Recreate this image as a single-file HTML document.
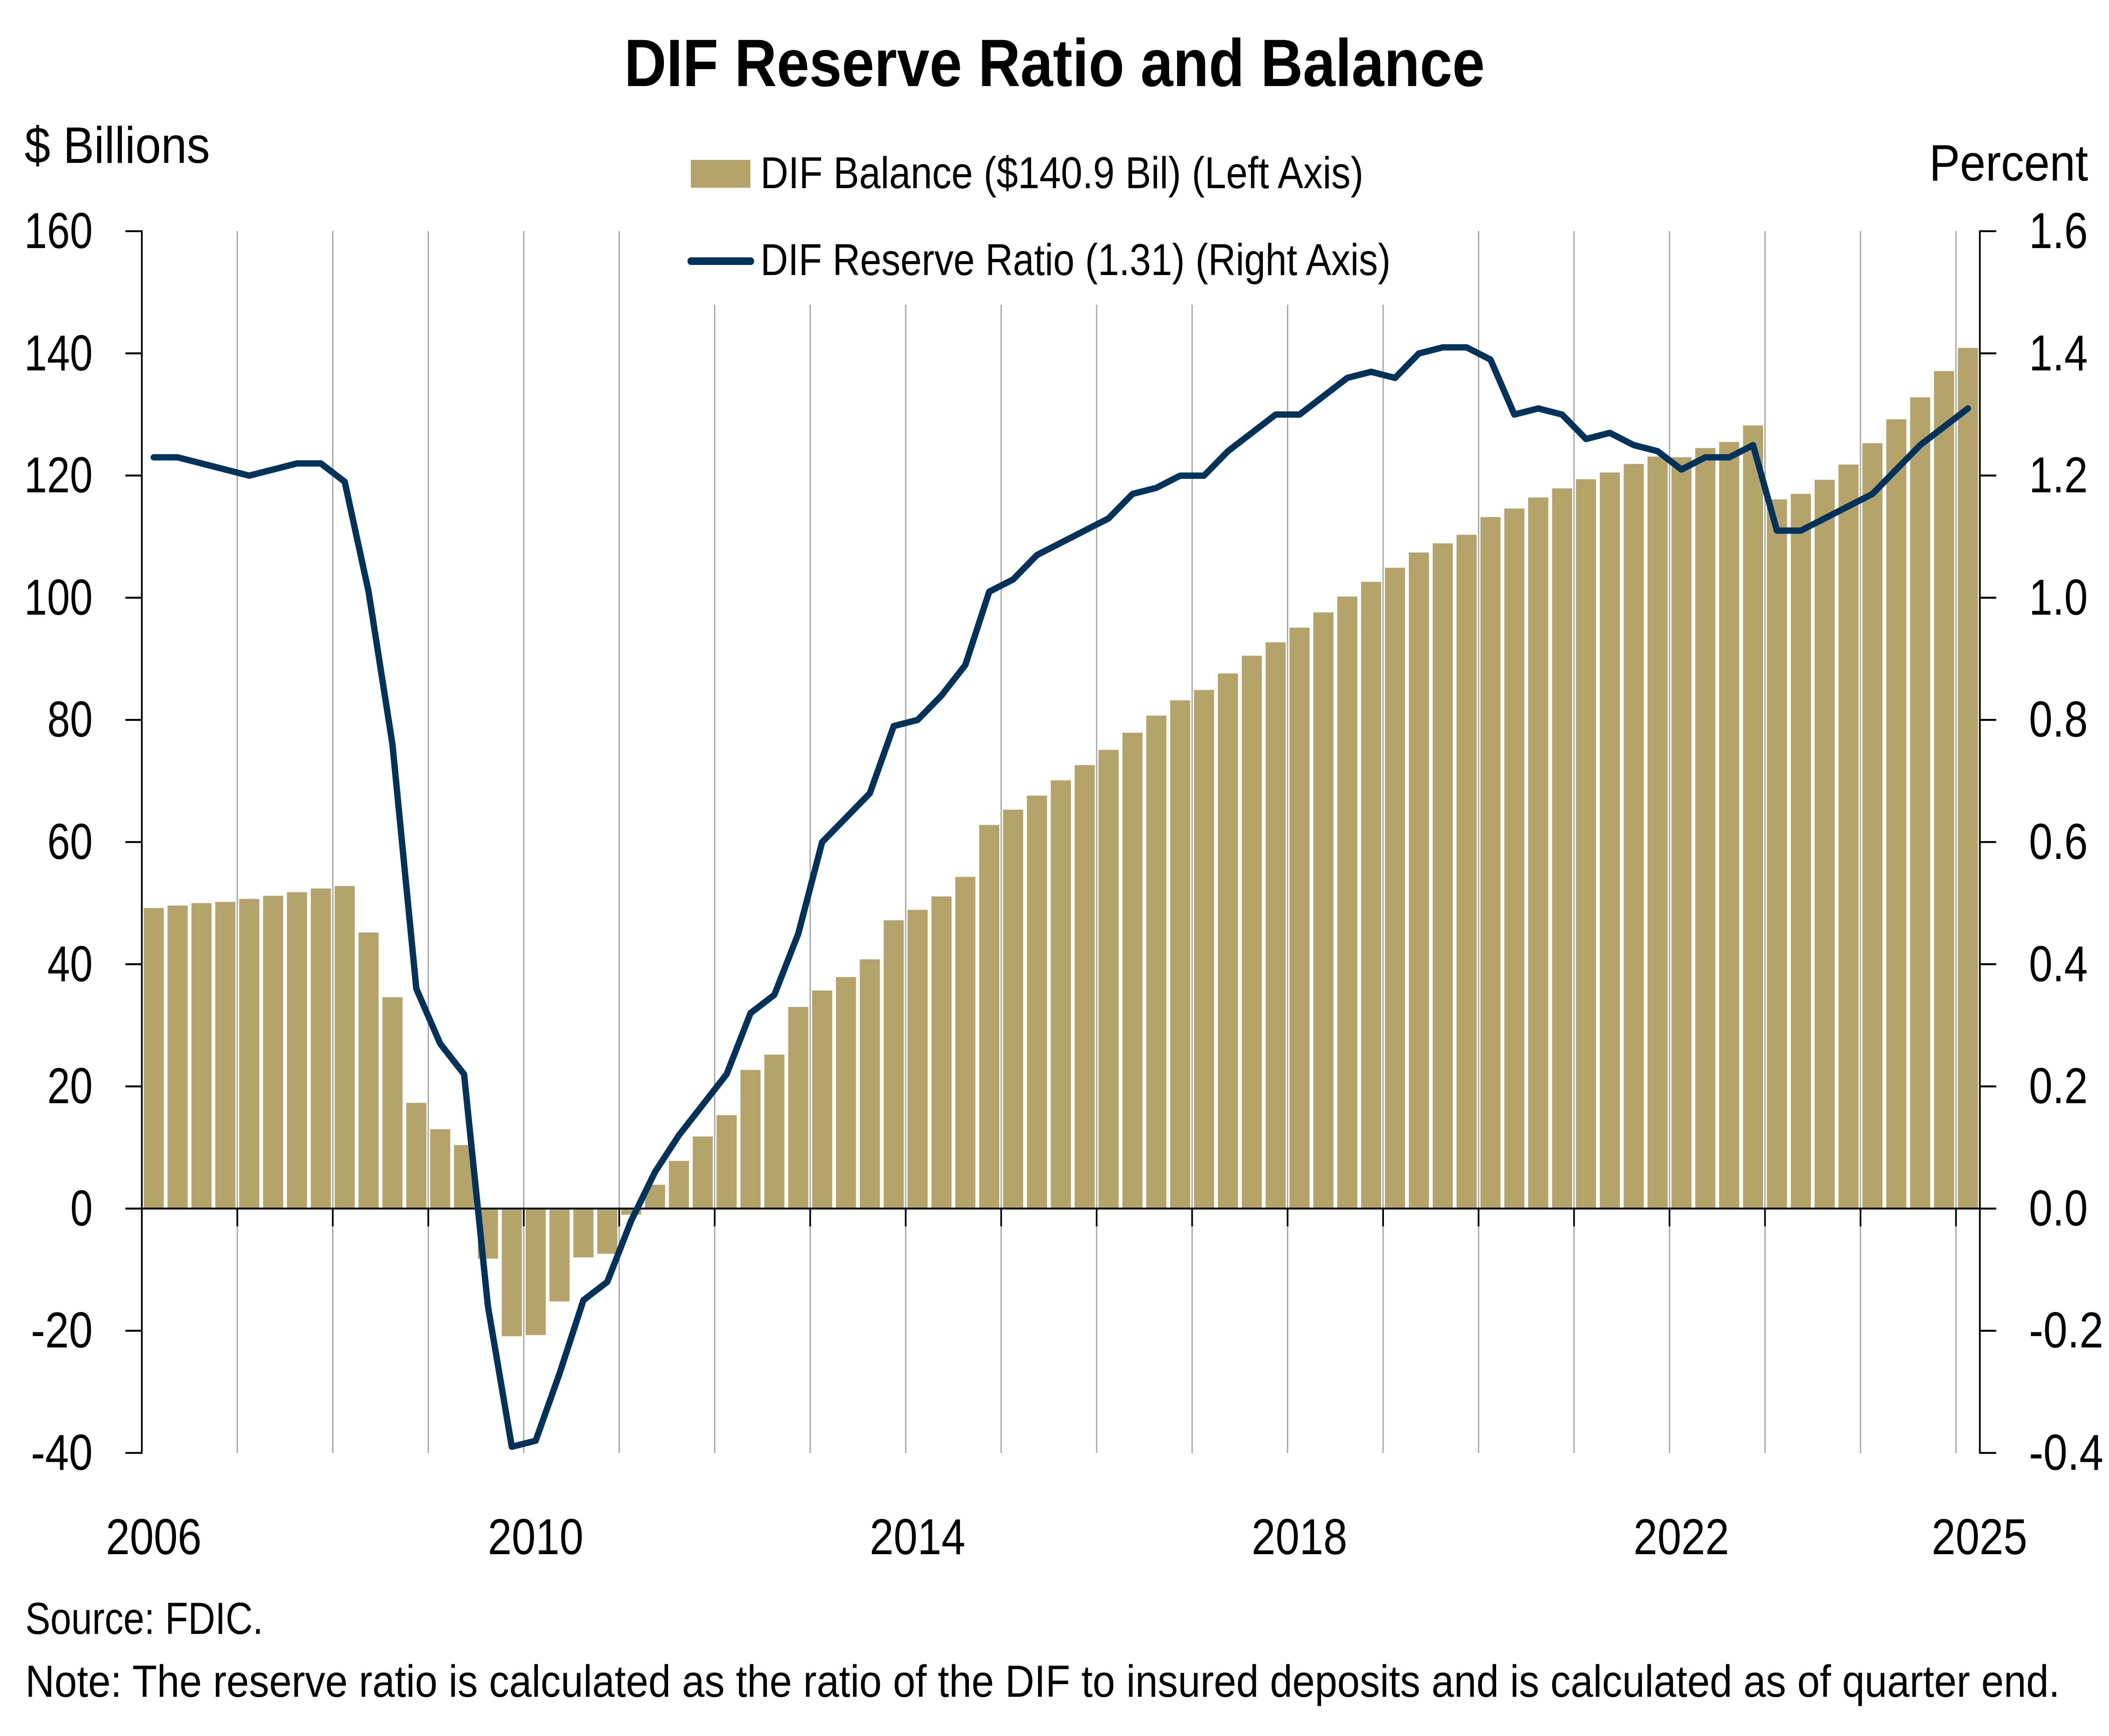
<!DOCTYPE html>
<html>
<head>
<meta charset="utf-8">
<style>
  html,body{margin:0;padding:0;background:#ffffff;width:100%;height:100%;overflow:hidden;}
  svg{display:block;position:absolute;left:0;top:0;width:100vw;height:100vh;}
  text{font-family:"Liberation Sans", Arial, sans-serif; fill:#000;}
</style>
</head>
<body>
<svg viewBox="0 0 5666 4115" preserveAspectRatio="none" xmlns="http://www.w3.org/2000/svg">
  <rect x="0" y="0" width="5666" height="4115" fill="#ffffff"/>

  <!-- Title -->
  <text x="1677" y="204" font-size="159" font-weight="bold" textLength="2312" lengthAdjust="spacingAndGlyphs">DIF Reserve Ratio and Balance</text>

  <!-- Axis titles -->
  <text x="66" y="386" font-size="122" textLength="498" lengthAdjust="spacingAndGlyphs">$ Billions</text>
  <text x="5183" y="428" font-size="122" textLength="427" lengthAdjust="spacingAndGlyphs">Percent</text>

  <!-- Gridlines -->
  <g stroke="#a6a6a6" stroke-width="3.5">
    <line x1="637.5" y1="548" x2="637.5" y2="3444"/>
    <line x1="894.0" y1="548" x2="894.0" y2="3444"/>
    <line x1="1150.6" y1="548" x2="1150.6" y2="3444"/>
    <line x1="1407.1" y1="548" x2="1407.1" y2="3444"/>
    <line x1="1663.6" y1="548" x2="1663.6" y2="3444"/>
    <line x1="1920.1" y1="722" x2="1920.1" y2="3444"/>
    <line x1="2176.6" y1="722" x2="2176.6" y2="3444"/>
    <line x1="2433.2" y1="722" x2="2433.2" y2="3444"/>
    <line x1="2689.7" y1="722" x2="2689.7" y2="3444"/>
    <line x1="2946.2" y1="722" x2="2946.2" y2="3444"/>
    <line x1="3202.7" y1="722" x2="3202.7" y2="3444"/>
    <line x1="3459.2" y1="722" x2="3459.2" y2="3444"/>
    <line x1="3715.8" y1="722" x2="3715.8" y2="3444"/>
    <line x1="3972.3" y1="548" x2="3972.3" y2="3444"/>
    <line x1="4228.8" y1="548" x2="4228.8" y2="3444"/>
    <line x1="4485.3" y1="548" x2="4485.3" y2="3444"/>
    <line x1="4741.8" y1="548" x2="4741.8" y2="3444"/>
    <line x1="4998.4" y1="548" x2="4998.4" y2="3444"/>
    <line x1="5254.9" y1="548" x2="5254.9" y2="3444"/>
  </g>

  <!-- Bars (DIF balance, left axis) -->
  <g transform="translate(381 2864.8) scale(64.13 -14.48)" fill="#b4a46a">
    <rect x="0.079" y="0" width="0.842" height="49.2"/>
    <rect x="1.079" y="0" width="0.842" height="49.6"/>
    <rect x="2.079" y="0" width="0.842" height="50.0"/>
    <rect x="3.079" y="0" width="0.842" height="50.2"/>
    <rect x="4.079" y="0" width="0.842" height="50.7"/>
    <rect x="5.079" y="0" width="0.842" height="51.2"/>
    <rect x="6.079" y="0" width="0.842" height="51.8"/>
    <rect x="7.079" y="0" width="0.842" height="52.4"/>
    <rect x="8.079" y="0" width="0.842" height="52.8"/>
    <rect x="9.079" y="0" width="0.842" height="45.2"/>
    <rect x="10.079" y="0" width="0.842" height="34.6"/>
    <rect x="11.079" y="0" width="0.842" height="17.3"/>
    <rect x="12.079" y="0" width="0.842" height="13.0"/>
    <rect x="13.079" y="0" width="0.842" height="10.4"/>
    <rect x="14.079" y="-8.2" width="0.842" height="8.2"/>
    <rect x="15.079" y="-20.9" width="0.842" height="20.9"/>
    <rect x="16.079" y="-20.7" width="0.842" height="20.7"/>
    <rect x="17.079" y="-15.2" width="0.842" height="15.2"/>
    <rect x="18.079" y="-8.0" width="0.842" height="8.0"/>
    <rect x="19.079" y="-7.4" width="0.842" height="7.4"/>
    <rect x="20.079" y="-1.0" width="0.842" height="1.0"/>
    <rect x="21.079" y="0" width="0.842" height="3.9"/>
    <rect x="22.079" y="0" width="0.842" height="7.8"/>
    <rect x="23.079" y="0" width="0.842" height="11.8"/>
    <rect x="24.079" y="0" width="0.842" height="15.3"/>
    <rect x="25.079" y="0" width="0.842" height="22.7"/>
    <rect x="26.079" y="0" width="0.842" height="25.2"/>
    <rect x="27.079" y="0" width="0.842" height="33.0"/>
    <rect x="28.079" y="0" width="0.842" height="35.7"/>
    <rect x="29.079" y="0" width="0.842" height="37.9"/>
    <rect x="30.079" y="0" width="0.842" height="40.8"/>
    <rect x="31.079" y="0" width="0.842" height="47.2"/>
    <rect x="32.079" y="0" width="0.842" height="48.9"/>
    <rect x="33.079" y="0" width="0.842" height="51.1"/>
    <rect x="34.079" y="0" width="0.842" height="54.3"/>
    <rect x="35.079" y="0" width="0.842" height="62.8"/>
    <rect x="36.079" y="0" width="0.842" height="65.3"/>
    <rect x="37.079" y="0" width="0.842" height="67.6"/>
    <rect x="38.079" y="0" width="0.842" height="70.1"/>
    <rect x="39.079" y="0" width="0.842" height="72.6"/>
    <rect x="40.079" y="0" width="0.842" height="75.1"/>
    <rect x="41.079" y="0" width="0.842" height="77.9"/>
    <rect x="42.079" y="0" width="0.842" height="80.7"/>
    <rect x="43.079" y="0" width="0.842" height="83.2"/>
    <rect x="44.079" y="0" width="0.842" height="84.9"/>
    <rect x="45.079" y="0" width="0.842" height="87.6"/>
    <rect x="46.079" y="0" width="0.842" height="90.5"/>
    <rect x="47.079" y="0" width="0.842" height="92.7"/>
    <rect x="48.079" y="0" width="0.842" height="95.1"/>
    <rect x="49.079" y="0" width="0.842" height="97.6"/>
    <rect x="50.079" y="0" width="0.842" height="100.2"/>
    <rect x="51.079" y="0" width="0.842" height="102.6"/>
    <rect x="52.079" y="0" width="0.842" height="104.9"/>
    <rect x="53.079" y="0" width="0.842" height="107.4"/>
    <rect x="54.079" y="0" width="0.842" height="108.9"/>
    <rect x="55.079" y="0" width="0.842" height="110.3"/>
    <rect x="56.079" y="0" width="0.842" height="113.2"/>
    <rect x="57.079" y="0" width="0.842" height="114.6"/>
    <rect x="58.079" y="0" width="0.842" height="116.4"/>
    <rect x="59.079" y="0" width="0.842" height="117.9"/>
    <rect x="60.079" y="0" width="0.842" height="119.4"/>
    <rect x="61.079" y="0" width="0.842" height="120.5"/>
    <rect x="62.079" y="0" width="0.842" height="121.9"/>
    <rect x="63.079" y="0" width="0.842" height="123.1"/>
    <rect x="64.079" y="0" width="0.842" height="123.0"/>
    <rect x="65.079" y="0" width="0.842" height="124.5"/>
    <rect x="66.079" y="0" width="0.842" height="125.5"/>
    <rect x="67.079" y="0" width="0.842" height="128.2"/>
    <rect x="68.079" y="0" width="0.842" height="116.1"/>
    <rect x="69.079" y="0" width="0.842" height="117.0"/>
    <rect x="70.079" y="0" width="0.842" height="119.3"/>
    <rect x="71.079" y="0" width="0.842" height="121.8"/>
    <rect x="72.079" y="0" width="0.842" height="125.3"/>
    <rect x="73.079" y="0" width="0.842" height="129.2"/>
    <rect x="74.079" y="0" width="0.842" height="132.8"/>
    <rect x="75.079" y="0" width="0.842" height="137.1"/>
    <rect x="76.079" y="0" width="0.842" height="140.9"/>
  </g>

  <!-- Zero line and its ticks -->
  <line x1="381" y1="2864.8" x2="5319" y2="2864.8" stroke="#000" stroke-width="4.5"/>
  <g stroke="#000" stroke-width="4.5">
    <line x1="637.5" y1="2864.8" x2="637.5" y2="2907"/>
    <line x1="894.0" y1="2864.8" x2="894.0" y2="2907"/>
    <line x1="1150.6" y1="2864.8" x2="1150.6" y2="2907"/>
    <line x1="1407.1" y1="2864.8" x2="1407.1" y2="2907"/>
    <line x1="1663.6" y1="2864.8" x2="1663.6" y2="2907"/>
    <line x1="1920.1" y1="2864.8" x2="1920.1" y2="2907"/>
    <line x1="2176.6" y1="2864.8" x2="2176.6" y2="2907"/>
    <line x1="2433.2" y1="2864.8" x2="2433.2" y2="2907"/>
    <line x1="2689.7" y1="2864.8" x2="2689.7" y2="2907"/>
    <line x1="2946.2" y1="2864.8" x2="2946.2" y2="2907"/>
    <line x1="3202.7" y1="2864.8" x2="3202.7" y2="2907"/>
    <line x1="3459.2" y1="2864.8" x2="3459.2" y2="2907"/>
    <line x1="3715.8" y1="2864.8" x2="3715.8" y2="2907"/>
    <line x1="3972.3" y1="2864.8" x2="3972.3" y2="2907"/>
    <line x1="4228.8" y1="2864.8" x2="4228.8" y2="2907"/>
    <line x1="4485.3" y1="2864.8" x2="4485.3" y2="2907"/>
    <line x1="4741.8" y1="2864.8" x2="4741.8" y2="2907"/>
    <line x1="4998.4" y1="2864.8" x2="4998.4" y2="2907"/>
    <line x1="5254.9" y1="2864.8" x2="5254.9" y2="2907"/>
  </g>

  <!-- Reserve ratio line (right axis) -->
  <g transform="translate(381 2864.8) scale(64.13 -1447.8)">
    <polyline fill="none" stroke="#00325a" stroke-width="15" vector-effect="non-scaling-stroke" stroke-linejoin="round" stroke-linecap="round"
      points="0.5,1.23 1.5,1.23 2.5,1.22 3.5,1.21 4.5,1.20 5.5,1.21 6.5,1.22 7.5,1.22 8.5,1.19 9.5,1.01 10.5,0.76 11.5,0.36 12.5,0.27 13.5,0.22 14.5,-0.16 15.5,-0.39 16.5,-0.38 17.5,-0.27 18.5,-0.15 19.5,-0.12 20.5,-0.02 21.5,0.06 22.5,0.12 23.5,0.17 24.5,0.22 25.5,0.32 26.5,0.35 27.5,0.45 28.5,0.60 29.5,0.64 30.5,0.68 31.5,0.79 32.5,0.80 33.5,0.84 34.5,0.89 35.5,1.01 36.5,1.03 37.5,1.07 38.5,1.09 39.5,1.11 40.5,1.13 41.5,1.17 42.5,1.18 43.5,1.20 44.5,1.20 45.5,1.24 46.5,1.27 47.5,1.30 48.5,1.30 49.5,1.33 50.5,1.36 51.5,1.37 52.5,1.36 53.5,1.40 54.5,1.41 55.5,1.41 56.5,1.39 57.5,1.30 58.5,1.31 59.5,1.30 60.5,1.26 61.5,1.27 62.5,1.25 63.5,1.24 64.5,1.21 65.5,1.23 66.5,1.23 67.5,1.25 68.5,1.11 69.5,1.11 70.5,1.13 71.5,1.15 72.5,1.17 73.5,1.21 74.5,1.25 75.5,1.28 76.5,1.31"/>
  </g>

  <!-- Axes -->
  <g stroke="#000" stroke-width="4.6" fill="none">
    <line x1="381" y1="546" x2="381" y2="3446"/>
    <line x1="5319" y1="546" x2="5319" y2="3446"/>
  </g>
  <g stroke="#000" stroke-width="4.6">
    <line x1="337" y1="548" x2="381" y2="548"/>
    <line x1="337" y1="837.6" x2="381" y2="837.6"/>
    <line x1="337" y1="1127.2" x2="381" y2="1127.2"/>
    <line x1="337" y1="1416.8" x2="381" y2="1416.8"/>
    <line x1="337" y1="1706.4" x2="381" y2="1706.4"/>
    <line x1="337" y1="1996" x2="381" y2="1996"/>
    <line x1="337" y1="2285.6" x2="381" y2="2285.6"/>
    <line x1="337" y1="2575.2" x2="381" y2="2575.2"/>
    <line x1="337" y1="2864.8" x2="381" y2="2864.8"/>
    <line x1="337" y1="3154.4" x2="381" y2="3154.4"/>
    <line x1="337" y1="3444" x2="381" y2="3444"/>
    <line x1="5319" y1="548" x2="5363" y2="548"/>
    <line x1="5319" y1="837.6" x2="5363" y2="837.6"/>
    <line x1="5319" y1="1127.2" x2="5363" y2="1127.2"/>
    <line x1="5319" y1="1416.8" x2="5363" y2="1416.8"/>
    <line x1="5319" y1="1706.4" x2="5363" y2="1706.4"/>
    <line x1="5319" y1="1996" x2="5363" y2="1996"/>
    <line x1="5319" y1="2285.6" x2="5363" y2="2285.6"/>
    <line x1="5319" y1="2575.2" x2="5363" y2="2575.2"/>
    <line x1="5319" y1="2864.8" x2="5363" y2="2864.8"/>
    <line x1="5319" y1="3154.4" x2="5363" y2="3154.4"/>
    <line x1="5319" y1="3444" x2="5363" y2="3444"/>
  </g>

  <!-- Left tick labels -->
  <g font-size="120" text-anchor="end">
    <text x="249" y="588" textLength="184" lengthAdjust="spacingAndGlyphs">160</text>
    <text x="249" y="878" textLength="184" lengthAdjust="spacingAndGlyphs">140</text>
    <text x="249" y="1167" textLength="184" lengthAdjust="spacingAndGlyphs">120</text>
    <text x="249" y="1457" textLength="184" lengthAdjust="spacingAndGlyphs">100</text>
    <text x="249" y="1746" textLength="122" lengthAdjust="spacingAndGlyphs">80</text>
    <text x="249" y="2036" textLength="122" lengthAdjust="spacingAndGlyphs">60</text>
    <text x="249" y="2326" textLength="122" lengthAdjust="spacingAndGlyphs">40</text>
    <text x="249" y="2615" textLength="122" lengthAdjust="spacingAndGlyphs">20</text>
    <text x="249" y="2905" textLength="60" lengthAdjust="spacingAndGlyphs">0</text>
    <text x="249" y="3194" textLength="166" lengthAdjust="spacingAndGlyphs">-20</text>
    <text x="249" y="3484" textLength="166" lengthAdjust="spacingAndGlyphs">-40</text>
  </g>

  <!-- Right tick labels -->
  <g font-size="120">
    <text x="5451" y="588" textLength="158" lengthAdjust="spacingAndGlyphs">1.6</text>
    <text x="5451" y="878" textLength="158" lengthAdjust="spacingAndGlyphs">1.4</text>
    <text x="5451" y="1167" textLength="158" lengthAdjust="spacingAndGlyphs">1.2</text>
    <text x="5451" y="1457" textLength="158" lengthAdjust="spacingAndGlyphs">1.0</text>
    <text x="5451" y="1746" textLength="158" lengthAdjust="spacingAndGlyphs">0.8</text>
    <text x="5451" y="2036" textLength="158" lengthAdjust="spacingAndGlyphs">0.6</text>
    <text x="5451" y="2326" textLength="158" lengthAdjust="spacingAndGlyphs">0.4</text>
    <text x="5451" y="2615" textLength="158" lengthAdjust="spacingAndGlyphs">0.2</text>
    <text x="5451" y="2905" textLength="158" lengthAdjust="spacingAndGlyphs">0.0</text>
    <text x="5451" y="3194" textLength="200" lengthAdjust="spacingAndGlyphs">-0.2</text>
    <text x="5451" y="3484" textLength="200" lengthAdjust="spacingAndGlyphs">-0.4</text>
  </g>

  <!-- X-axis year labels -->
  <g font-size="120" text-anchor="middle">
    <text x="413" y="3684" textLength="257" lengthAdjust="spacingAndGlyphs">2006</text>
    <text x="1439" y="3684" textLength="257" lengthAdjust="spacingAndGlyphs">2010</text>
    <text x="2465" y="3684" textLength="257" lengthAdjust="spacingAndGlyphs">2014</text>
    <text x="3491" y="3684" textLength="257" lengthAdjust="spacingAndGlyphs">2018</text>
    <text x="4517" y="3684" textLength="257" lengthAdjust="spacingAndGlyphs">2022</text>
    <text x="5318" y="3684" textLength="257" lengthAdjust="spacingAndGlyphs">2025</text>
  </g>

  <!-- Legend -->
  <rect x="1856" y="379" width="160" height="66" fill="#b4a46a"/>
  <text x="2043" y="446" font-size="106" textLength="1620" lengthAdjust="spacingAndGlyphs">DIF Balance ($140.9 Bil) (Left Axis)</text>
  <line x1="1856" y1="619" x2="2017" y2="619" stroke="#00325a" stroke-width="18" stroke-linecap="round"/>
  <text x="2043" y="652" font-size="106" textLength="1693" lengthAdjust="spacingAndGlyphs">DIF Reserve Ratio (1.31) (Right Axis)</text>

  <!-- Notes -->
  <text x="68" y="3873" font-size="107" textLength="639" lengthAdjust="spacingAndGlyphs">Source: FDIC.</text>
  <text x="68" y="4022" font-size="107" textLength="5466" lengthAdjust="spacingAndGlyphs">Note: The reserve ratio is calculated as the ratio of the DIF to insured deposits and is calculated as of quarter end.</text>
</svg>
</body>
</html>
